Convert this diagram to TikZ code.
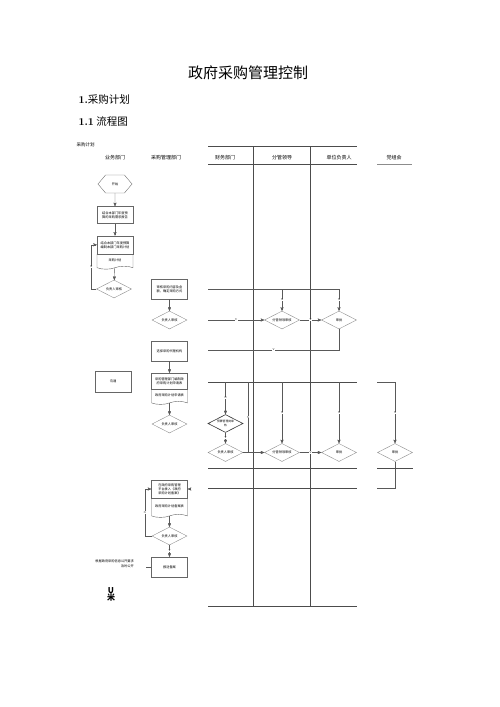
\documentclass[tikz,border=0pt]{standalone}
\usepackage{fontspec}
\newfontfamily\cjk{Noto Sans CJK SC}
\XeTeXlinebreaklocale "zh"
\XeTeXlinebreakskip=0pt
\usepackage{tikz}
\usetikzlibrary{positioning,arrows,shapes.geometric,shapes.symbols}
\tikzset{
    >=stealth',
    lane/.style={draw=black!70, line width=0.6pt},
    flow/.style={draw=black!65, line width=0.4pt},
    lanehead/.style={font=\cjk\fontsize{5}{6}\selectfont, inner sep=0pt},
    stepbox/.style={
        rectangle,
        draw=black!60, line width=0.4pt,
        minimum width=36pt,
        minimum height=20pt,
        text width=32pt,
        align=center,
        inner sep=1pt,
        font=\cjk\fontsize{3.2}{4}\selectfont
    },
    doclow/.style={
        tape, tape bend top=none, tape bend height=3pt,
        draw=black!60, line width=0.4pt,
        minimum width=36pt,
        minimum height=15pt,
        text width=32pt,
        align=center,
        inner sep=1pt,
        font=\cjk\fontsize{3.2}{4}\selectfont
    },
    check/.style={
        diamond, aspect=2,
        draw=black!45, line width=0.4pt,
        minimum width=35pt,
        minimum height=18pt,
        inner sep=0pt,
        align=center,
        font=\cjk\fontsize{3.2}{4}\selectfont
    },
    hexa/.style={
        signal, signal to=east and west, signal pointer angle=100,
        draw=black!55, line width=0.4pt,
        minimum width=34pt,
        minimum height=18pt,
        inner sep=0pt,
        font=\cjk\fontsize{3.2}{4}\selectfont
    },
    tag/.style={fill=white, inner sep=0.3pt, font=\fontsize{2.5}{3}\selectfont}
}

\begin{document}
\begin{tikzpicture}[x=1pt, y=-1pt, font=\cjk]
\useasboundingbox (0,0) rectangle (500,707);

% headings
\node (title) at (248,73) {\fontsize{15}{15}\selectfont 政府采购管理控制};
\node [anchor=west] (sec) at (75,100) {\fontsize{10.5}{12}\selectfont{\rmfamily\bfseries 1.}采购计划};
\node [anchor=west] (subsec) at (75,122) {\fontsize{10.5}{12}\selectfont{\rmfamily\bfseries 1.1}\ 流程图};
\node [anchor=west] (chart) at (73,145) {\fontsize{4.5}{5}\selectfont 采购计划};

% lanes
\foreach \n/\l/\x in {biz/业务部门/115, buy/采购管理部门/166, fin/财务部门/225,
    lead/分管领导/282, head/单位负责人/339, party/党组会/394}
  \node [lanehead] (h-\n) at (\x,158) {\l};
\draw [lane] (208,146) -- (357,146);
\draw [lane] (208,164) -- (357,164);
\draw [lane, draw=black!45] (377,164) -- (412,164);
\draw [lane] (253,146) -- (253,606);
\draw [lane] (310,146) -- (310,606);
\draw [lane] (208,606) -- (357,606);

% business department
\node [hexa] (start) at (115,184) {开始};
\node [stepbox, minimum height=17pt, below=13pt of start] (need) {结合本部门年度预算的采购需求报告};
\node [stepbox, minimum height=18pt, below=12pt of need] (plan) {结合本部门年度预算编制本部门采购计划};
\node [doclow, below=0pt of plan] (plan-b) {采购计划};
\node [check] (plan-ok) at (114,289) {负责人审核};
\node [stepbox, minimum height=21pt] (talk) at (113,381.5) {沟通};

% procurement department
\node [stepbox] (scope) at (169.5,289) {审核采购内容及金额，确定采购方式};
\node [check] (scope-ok) at (169.5,320) {负责人审核};
\node [stepbox] (agent) at (169.5,351) {选择采购代理机构};
\node [stepbox, minimum height=16pt] (apply) at (169.5,381) {采购管理部门编制政府采购计划申请表};
\node [doclow, below=0pt of apply] (apply-b) {政府采购计划申请表};
\node [check] (apply-ok) at (169.5,424) {负责人审核};
\node [stepbox, minimum height=18pt] (file) at (169.5,489) {在政府采购管理平台录入《政府采购计划备案》};
\node [doclow, minimum height=19pt, below=0pt of file] (file-b) {政府采购计划备案表};
\node [check] (file-ok) at (169.5,536) {负责人审核};
\node [stepbox] (report) at (169.5,567) {报送备案};
\node [anchor=east, align=right, inner sep=0pt, font=\cjk\fontsize{3.2}{4.5}\selectfont]
  (disclose) at (134,564) {根据政府采购信息公开要求\\及时公开};
\coordinate (disclose-end) at (146,567);
\node [align=center, inner sep=0pt, font=\cjk\bfseries\fontsize{8}{7}\selectfont] (mark) at (111,594) {U\\米};

% finance and leaders
\node [check] (lead-ok) at (282,320) {分管领导审核};
\node [check] (head-ok) at (339,320) {审批};
\node [check, draw=black!80, line width=0.6pt, font=\cjk\fontsize{2.8}{3.5}\selectfont]
  (budget-ok) at (225.5,423.5) {预算管理岗审\\核};
\node [check] (fin-ok) at (225.5,452.5) {负责人审核};
\node [check] (lead-ok2) at (282,452.5) {分管领导审核};
\node [check] (head-ok2) at (339,452.5) {审批};
\node [check] (party-ok) at (395,452.5) {审批};

% row ends
\coordinate (r1) at (208,289);
\coordinate (r2) at (208,320);
\coordinate (r3) at (208,350);
\coordinate (r4) at (208,382);
\coordinate (n-back) at (248,382);
\coordinate (p4) at (377,382);
\coordinate (p6) at (377,488);

% connectors
\draw [flow, ->] (start) -- (need);
\draw [flow, ->] (need) -- (plan);
\draw [flow, ->] (plan-b) -- (plan-ok);
\draw [flow, ->] (plan-ok.west) -- ++(-5,0) |- node [tag, pos=0.25] {N} (plan.west);
\draw [flow, ->] (scope) -- (scope-ok);
\draw [flow, ->] (agent) -- (apply);
\draw [flow, ->] (apply-b) -- (apply-ok);
\draw [flow, ->] (file-b) -- (file-ok);
\draw [flow, ->] (file-ok) -- node [tag] {Y} (report);
\draw [flow, ->] (file-ok.west) -- ++(-7,0) |- node [tag, pos=0.25] {N} (file.west);
\draw [flow, <-] (file.east) -- ++(3,0);
\draw [flow] (disclose-end) -- (report.west);

\draw [flow] (r1) -- (339,289);
\draw [flow, ->] (lead-ok |- r1) -- node [tag] {N} (lead-ok.north);
\draw [flow, ->] (head-ok |- r1) -- node [tag] {N} (head-ok.north);
\draw [flow, ->] (r2) -- node [tag] {Y} (lead-ok.west);
\draw [flow, ->] (lead-ok) -- node [tag] {Y} (head-ok);
\draw [flow] (head-ok.south) |- node [tag, pos=0.75] {Y} (r3);

\draw [lane] (r4) -- (357,382);
\draw [flow, ->] (budget-ok |- r4) -- node [tag] {N} (budget-ok.north);
\draw [flow, ->] (budget-ok) -- node [tag] {Y} (fin-ok);
\draw [flow] (n-back) -- node [tag] {N} (n-back |- fin-ok);
\draw [flow, ->] (fin-ok) -- (lead-ok2);
\draw [flow, ->] (lead-ok2 |- r4) -- node [tag] {N} (lead-ok2.north);
\draw [flow, ->] (head-ok2 |- r4) -- node [tag] {N} (head-ok2.north);
\draw [flow, ->] (lead-ok2) -- node [tag] {Y} (head-ok2);
\draw [flow, ->] (p4) -| node [tag, pos=0.75] {N} (party-ok.north);
\draw [flow] (party-ok.south) |- (p6);

\draw [lane] (208,468) -- (357,468);
\draw [lane] (377,468) -- (413,468);
\draw [lane] (208,488) -- (357,488);

\end{tikzpicture}
\end{document}
